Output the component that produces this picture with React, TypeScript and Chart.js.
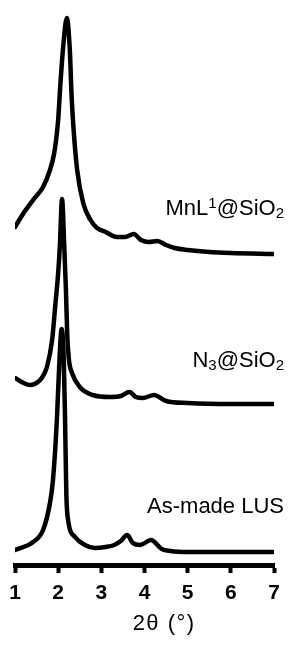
import React, { useEffect, useRef } from "react";
import { Chart, registerables } from "chart.js";

Chart.register(...registerables);

// 2θ (degrees) sample positions and offset intensities (arbitrary units, stacked)
const asMadeX = [1.0, 1.42, 1.65, 1.81, 1.88, 1.97, 2.03, 2.08, 2.13, 2.16, 2.19, 2.23, 2.39, 2.62, 2.85, 3.1, 3.3, 3.45, 3.6, 3.73, 3.9, 4.15, 4.4, 4.6, 5.0, 6.0, 7.0];
const asMadeY = [15, 23, 35, 62, 85, 145, 205, 236, 205, 145, 70, 45, 28, 20, 17, 18, 20, 24, 30, 22, 20, 25, 16, 14, 13, 13, 13];

const n3X = [1.0, 1.2, 1.35, 1.5, 1.62, 1.74, 1.86, 1.93, 2.0, 2.04, 2.09, 2.14, 2.18, 2.21, 2.25, 2.32, 2.5, 2.8, 3.2, 3.45, 3.65, 3.8, 3.96, 4.22, 4.5, 5.0, 6.0, 7.0];
const n3Y = [187, 182, 180, 182, 187, 198, 225, 258, 292, 320, 366, 320, 275, 230, 205, 192, 178, 170, 168, 169, 173, 168, 167, 170, 164, 162, 161, 161];

const mnX = [1.0, 1.2, 1.42, 1.65, 1.81, 1.9, 1.96, 2.0, 2.05, 2.12, 2.2, 2.27, 2.31, 2.355, 2.44, 2.58, 2.75, 2.9, 3.1, 3.36, 3.55, 3.75, 3.92, 4.1, 4.3, 4.5, 4.7, 5.0, 5.5, 6.0, 7.0];
const mnY = [338, 352, 365, 378, 395, 410, 428, 445, 480, 520, 547, 515, 470, 437, 395, 362, 345, 337, 333, 328, 328, 331, 325, 323, 324, 320, 317, 315, 313, 312, 311];

const xTicks = [1, 2, 3, 4, 5, 6, 7];
const xTitle = "2θ (°)";

// Curve labels: rich text parts and the intensity level of their baseline
type Part = { t: string; s: "n" | "sup" | "sub" };
const labelParts: Part[][] = [
  [{ t: "MnL", s: "n" }, { t: "1", s: "sup" }, { t: "@SiO", s: "n" }, { t: "2", s: "sub" }],
  [{ t: "N", s: "n" }, { t: "3", s: "sub" }, { t: "@SiO", s: "n" }, { t: "2", s: "sub" }],
  [{ t: "As-made LUS", s: "n" }],
];
const labelLevels = [350, 198, 52];

const FAMILY = '"Liberation Sans", Arial, Helvetica, sans-serif';

const labelsPlugin = {
  id: "curveLabels",
  afterDraw(chart: any) {
    const { ctx, chartArea, scales } = chart;
    ctx.save();
    ctx.fillStyle = "#000";
    ctx.textBaseline = "alphabetic";
    ctx.textAlign = "left";
    const fontFor = (s: string) =>
      s === "n" ? `22px ${FAMILY}` : `15px ${FAMILY}`;
    labelParts.forEach((parts, i) => {
      const baseY = scales.y.getPixelForValue(labelLevels[i]);
      let total = 0;
      parts.forEach((p) => {
        ctx.font = fontFor(p.s);
        total += ctx.measureText(p.t).width;
      });
      let x = chartArea.right + 10 - total;
      parts.forEach((p) => {
        ctx.font = fontFor(p.s);
        const dy = p.s === "sup" ? -7 : p.s === "sub" ? 3 : 0;
        ctx.fillText(p.t, x, baseY + dy);
        x += ctx.measureText(p.t).width;
      });
    });
    // axis title
    ctx.font = `22px ${FAMILY}`;
    try {
      (ctx as any).letterSpacing = "1.5px";
    } catch (e) {}
    ctx.textAlign = "center";
    const cx = chartArea.left + (chartArea.right - chartArea.left) * 0.572 + 1;
    ctx.fillText(xTitle, cx, chartArea.bottom + 65);
    ctx.restore();
  },
};

export default function App() {
  const ref = useRef<HTMLCanvasElement | null>(null);
  useEffect(() => {
    document.body.style.margin = "0";
    const canvas = ref.current;
    if (!canvas) return;
    const mk = (xs: number[], ys: number[]) => xs.map((x, i) => ({ x, y: ys[i] }));
    const chart = new Chart(canvas, {
      type: "line",
      data: {
        datasets: [
          { label: "As-made LUS", data: mk(asMadeX, asMadeY) },
          { label: "N3@SiO2", data: mk(n3X, n3Y) },
          { label: "MnL1@SiO2", data: mk(mnX, mnY) },
        ].map((d) => ({
          ...d,
          borderColor: "#000",
          backgroundColor: "#000",
          borderWidth: 4.5,
          pointRadius: 0,
          fill: false,
          cubicInterpolationMode: "monotone" as const,
          borderCapStyle: "round" as const,
          borderJoinStyle: "round" as const,
        })),
      },
      options: {
        animation: false,
        responsive: false,
        layout: { padding: { left: 15, right: 19, top: 5, bottom: 40 } },
        plugins: {
          legend: { display: false },
          tooltip: { enabled: false },
          title: { display: false },
        },
        scales: {
          x: {
            type: "linear",
            min: 1,
            max: 7,
            afterBuildTicks: (s: any) => {
              s.ticks = xTicks.map((v) => ({ value: v }));
            },
            afterFit: (s: any) => {
              s.height = 40;
            },
            ticks: {
              color: "#000",
              font: { family: FAMILY, size: 21, weight: "bold" },
              padding: 8,
              autoSkip: false,
              maxRotation: 0,
              callback: (v: any) => String(v),
            },
            grid: {
              display: true,
              drawOnChartArea: false,
              drawTicks: true,
              tickLength: 8,
              tickWidth: 4,
              tickColor: "#000",
            },
            border: { display: true, color: "#000", width: 5 },
          },
          y: { display: false, min: 0, max: 560 },
        },
      },
      plugins: [labelsPlugin],
    });
    return () => chart.destroy();
  }, []);
  return (
    <div style={{ position: "fixed", left: 0, top: 0, width: 293, height: 645, background: "#fff" }}>
      <canvas ref={ref} width={293} height={645} />
    </div>
  );
}
